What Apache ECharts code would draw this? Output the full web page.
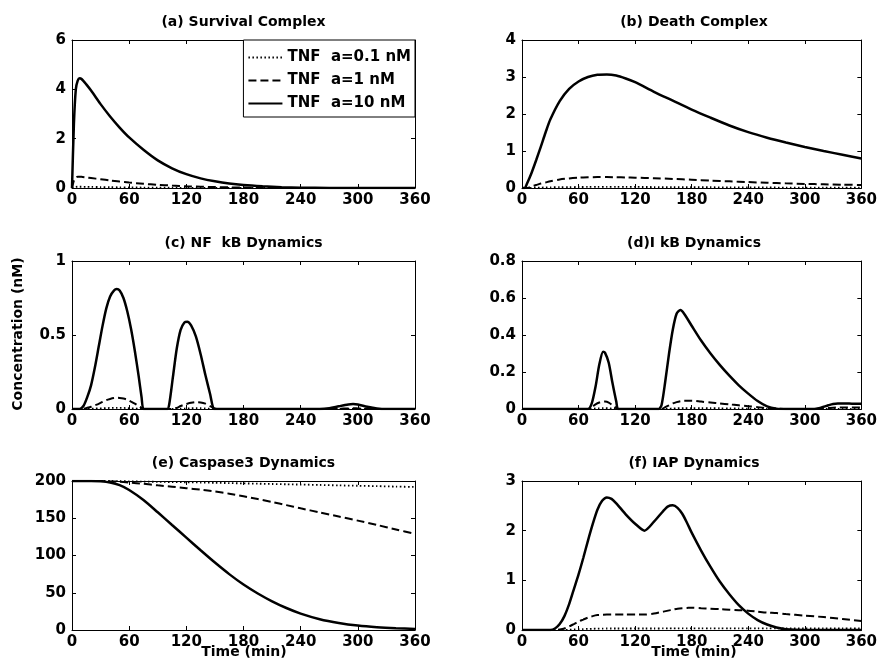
<!DOCTYPE html>
<html lang="en">
<head>
    <meta charset="UTF-8">
    <title>TNF dynamics</title>
    <script src="https://cdn.jsdelivr.net/npm/echarts@6/dist/echarts.min.js"></script>
    <style>
        html, body { margin: 0; padding: 0; background: #fff; }
        #main { width: 880px; height: 670px; }
    </style>
</head>
<body>
<div id="main"></div>
<script type="text/javascript">
    // legend names
    var names = ['TNF  a=0.1 nM', 'TNF  a=1 nM', 'TNF  a=10 nM'];
    var xTicks = [0, 60, 120, 180, 240, 300, 360];

    // (a) survival complex
    var tA = [0, 2, 4, 6, 8, 10, 15, 20, 30, 40, 50, 60, 75, 90, 105, 120, 135, 150, 165, 180, 200, 220, 240, 270, 300, 330, 360];
    var aLow = [0, 0.03, 0.045, 0.05, 0.05, 0.05, 0.047, 0.044, 0.038, 0.033, 0.028, 0.024, 0.018, 0.014, 0.01, 0.007, 0.005, 0.004, 0.003, 0.002, 0.001, 0, 0, 0, 0, 0, 0];
    var aMid = [0, 0.3, 0.42, 0.46, 0.46, 0.455, 0.43, 0.405, 0.355, 0.305, 0.26, 0.22, 0.17, 0.13, 0.098, 0.072, 0.052, 0.037, 0.026, 0.018, 0.01, 0.005, 0.002, 0, 0, 0, 0];
    var aHigh = [0, 2.6, 4.0, 4.35, 4.45, 4.42, 4.2, 3.95, 3.4, 2.9, 2.45, 2.05, 1.55, 1.12, 0.8, 0.56, 0.39, 0.27, 0.18, 0.12, 0.07, 0.035, 0.015, 0.004, 0, 0, 0];

    // (b) death complex
    var tB = [0, 3, 5, 10, 15, 20, 25, 30, 40, 50, 60, 70, 80, 90, 100, 110, 120, 140, 160, 180, 200, 220, 240, 260, 280, 300, 320, 340, 360];
    var bLow = [0, 0, 0, 0.005, 0.01, 0.012, 0.015, 0.018, 0.022, 0.025, 0.027, 0.028, 0.029, 0.029, 0.029, 0.028, 0.028, 0.026, 0.024, 0.022, 0.02, 0.018, 0.016, 0.014, 0.012, 0.011, 0.01, 0.009, 0.008];
    var bMid = [0, 0, 0, 0.04, 0.08, 0.12, 0.15, 0.18, 0.23, 0.26, 0.28, 0.29, 0.295, 0.295, 0.29, 0.285, 0.28, 0.265, 0.245, 0.225, 0.2, 0.18, 0.16, 0.14, 0.125, 0.11, 0.1, 0.09, 0.08];
    var bHigh = [0, 0, 0.1, 0.4, 0.75, 1.12, 1.5, 1.85, 2.35, 2.68, 2.88, 3.0, 3.06, 3.07, 3.04, 2.96, 2.86, 2.6, 2.36, 2.12, 1.9, 1.69, 1.51, 1.36, 1.23, 1.11, 1.0, 0.9, 0.8];

    // (c) NF kB
    var tC = [0, 8, 12, 16, 20, 24, 28, 32, 36, 40, 44, 47, 50, 54, 58, 62, 66, 70, 73, 75, 80, 90, 100, 102, 106, 110, 114, 118, 121, 125, 130, 135, 140, 145, 149, 152, 160, 180, 200, 220, 240, 260, 270, 280, 290, 295, 300, 310, 320, 330, 360];
    var cLow = [0, 0, 0, 0.001, 0.002, 0.003, 0.004, 0.005, 0.006, 0.007, 0.007, 0.007, 0.007, 0.007, 0.006, 0.005, 0.004, 0.002, 0.001, 0, 0, 0, 0, 0, 0, 0.001, 0.002, 0.003, 0.004, 0.005, 0.005, 0.005, 0.004, 0.002, 0.001, 0, 0, 0, 0, 0, 0, 0, 0, 0, 0, 0, 0, 0, 0, 0, 0];
    var cMid = [0, 0, 0.002, 0.008, 0.015, 0.025, 0.035, 0.048, 0.06, 0.068, 0.074, 0.076, 0.075, 0.071, 0.063, 0.05, 0.036, 0.02, 0.008, 0, 0, 0, 0, 0, 0, 0.008, 0.02, 0.03, 0.036, 0.042, 0.046, 0.044, 0.036, 0.02, 0.005, 0, 0, 0, 0, 0, 0, 0, 0, 0.002, 0.004, 0.005, 0.004, 0.002, 0, 0, 0];
    var cHigh = [0, 0, 0.02, 0.08, 0.16, 0.28, 0.42, 0.56, 0.68, 0.76, 0.8, 0.81, 0.8, 0.75, 0.66, 0.54, 0.39, 0.22, 0.08, 0, 0, 0, 0, 0.03, 0.22, 0.41, 0.535, 0.585, 0.59, 0.565, 0.49, 0.37, 0.23, 0.1, 0, 0, 0, 0, 0, 0, 0, 0, 0.005, 0.018, 0.03, 0.033, 0.03, 0.015, 0.004, 0, 0];

    // (d) I kB
    var tD = [0, 60, 70, 74, 78, 82, 86, 88, 92, 96, 100, 102, 110, 120, 140, 145, 148, 152, 156, 160, 164, 168, 172, 180, 190, 200, 210, 220, 230, 240, 250, 260, 270, 280, 300, 310, 315, 320, 325, 330, 335, 340, 350, 360];
    var dLow = [0, 0, 0, 0.001, 0.003, 0.004, 0.005, 0.005, 0.004, 0.002, 0.001, 0, 0, 0, 0, 0, 0, 0.001, 0.002, 0.003, 0.004, 0.005, 0.005, 0.005, 0.005, 0.004, 0.004, 0.003, 0.003, 0.002, 0.001, 0.001, 0, 0, 0, 0, 0, 0, 0, 0.001, 0.001, 0.001, 0.001, 0.001];
    var dMid = [0, 0, 0, 0.01, 0.025, 0.035, 0.04, 0.04, 0.035, 0.02, 0.005, 0, 0, 0, 0, 0, 0, 0.01, 0.02, 0.03, 0.037, 0.042, 0.045, 0.045, 0.04, 0.035, 0.03, 0.025, 0.02, 0.015, 0.01, 0.005, 0.002, 0, 0, 0, 0.001, 0.003, 0.005, 0.007, 0.008, 0.008, 0.008, 0.008];
    var dHigh = [0, 0, 0, 0.03, 0.12, 0.24, 0.31, 0.305, 0.25, 0.14, 0.04, 0, 0, 0, 0, 0, 0.02, 0.15, 0.3, 0.43, 0.515, 0.535, 0.515, 0.45, 0.37, 0.3, 0.237, 0.18, 0.128, 0.083, 0.043, 0.014, 0.002, 0, 0, 0, 0.004, 0.012, 0.02, 0.027, 0.03, 0.03, 0.029, 0.028];

    // (e) caspase3
    var tE = [0, 20, 30, 40, 50, 60, 75, 90, 105, 120, 135, 150, 165, 180, 195, 210, 225, 240, 260, 280, 300, 320, 340, 360];
    var eLow = [200, 200, 200, 200, 199.8, 199.6, 199.2, 198.9, 198.6, 198.3, 198, 197.6, 197.2, 196.8, 196.4, 196, 195.6, 195.2, 194.7, 194.1, 193.6, 193.1, 192.5, 192];
    var eMid = [200, 200, 200, 199.5, 199, 198, 196.2, 194.2, 192.3, 190.4, 188.3, 186, 183, 179.5, 175.7, 171.8, 167.6, 163.3, 157.8, 152.3, 146.8, 141, 135, 129];
    var eHigh = [200, 200, 199.5, 198, 194.5, 188, 174.5, 158, 141, 124, 107, 90.5, 75, 61, 49, 38.5, 29.5, 22, 14.5, 9.5, 6, 3.8, 2.4, 1.5];

    // (f) IAP
    var tF = [0, 30, 35, 40, 45, 50, 55, 60, 65, 70, 75, 80, 85, 90, 95, 100, 110, 120, 130, 140, 150, 155, 160, 165, 170, 175, 180, 190, 200, 210, 220, 230, 240, 250, 260, 270, 280, 300, 320, 340, 360];
    var fLow = [0, 0, 0, 0, 0, 0.005, 0.01, 0.015, 0.019, 0.022, 0.025, 0.027, 0.029, 0.03, 0.03, 0.03, 0.03, 0.03, 0.03, 0.03, 0.031, 0.031, 0.031, 0.031, 0.031, 0.031, 0.031, 0.031, 0.031, 0.031, 0.031, 0.031, 0.031, 0.031, 0.031, 0.031, 0.031, 0.031, 0.031, 0.031, 0.031];
    var fMid = [0, 0, 0, 0.01, 0.03, 0.07, 0.12, 0.17, 0.21, 0.25, 0.28, 0.3, 0.305, 0.31, 0.31, 0.31, 0.31, 0.31, 0.31, 0.33, 0.37, 0.39, 0.41, 0.43, 0.44, 0.445, 0.45, 0.44, 0.43, 0.42, 0.41, 0.4, 0.39, 0.37, 0.35, 0.34, 0.32, 0.29, 0.26, 0.22, 0.18];
    var fHigh = [0, 0, 0.03, 0.12, 0.28, 0.52, 0.82, 1.12, 1.45, 1.8, 2.13, 2.42, 2.6, 2.67, 2.64, 2.55, 2.33, 2.14, 2.0, 2.18, 2.4, 2.49, 2.51, 2.46, 2.34, 2.16, 1.96, 1.6, 1.27, 0.97, 0.72, 0.5, 0.33, 0.2, 0.11, 0.05, 0.015, 0, 0, 0, 0];

    var panels = [
        {title: '(a) Survival Complex', t: tA, low: aLow, mid: aMid, high: aHigh, max: 6, step: 2},
        {title: '(b) Death Complex', t: tB, low: bLow, mid: bMid, high: bHigh, max: 4, step: 1},
        {title: '(c) NF  kB Dynamics', t: tC, low: cLow, mid: cMid, high: cHigh, max: 1, step: 0.5},
        {title: '(d)I kB Dynamics', t: tD, low: dLow, mid: dMid, high: dHigh, max: 0.8, step: 0.2},
        {title: '(e) Caspase3 Dynamics', t: tE, low: eLow, mid: eMid, high: eHigh, max: 200, step: 50},
        {title: '(f) IAP Dynamics', t: tF, low: fLow, mid: fMid, high: fHigh, max: 3, step: 1}
    ];

    var lefts = [72, 522];
    var widths = [343, 344];
    var tops = [40, 261, 481];
    var heights = [148, 148, 149];

    var font = 'DejaVu Sans';
    var labelStyle = {fontFamily: font, fontWeight: 'bold', fontSize: 15, color: '#000'};
    var lineAxis = {show: true, onZero: false, lineStyle: {color: '#000', width: 1}};
    var tickIn = {show: true, inside: true, length: 4, lineStyle: {color: '#000'}};

    var grids = [], xAxes = [], yAxes = [], series = [], graphics = [];
    var styles = [
        {type: [1.5, 2.5], width: 1.8},
        {type: [8, 4], width: 2},
        {type: 'solid', width: 2.5}
    ];

    function zip(t, v) {
        return t.map(function (x, i) { return [x, v[i]]; });
    }

    panels.forEach(function (p, i) {
        var col = i % 2, row = Math.floor(i / 2);
        grids.push({left: lefts[col], top: tops[row], width: widths[col], height: heights[row], containLabel: false});

        xAxes.push({
            gridIndex: i, type: 'value', min: 0, max: 360, interval: 60, position: 'bottom',
            axisLine: lineAxis, axisTick: tickIn, splitLine: {show: false},
            axisLabel: Object.assign({margin: 5}, labelStyle)
        });
        xAxes.push({
            gridIndex: i, type: 'value', min: 0, max: 360, interval: 60, position: 'top',
            axisLine: lineAxis, axisTick: tickIn, splitLine: {show: false}, axisLabel: {show: false}
        });
        yAxes.push({
            gridIndex: i, type: 'value', min: 0, max: p.max, interval: p.step, position: 'left',
            axisLine: lineAxis, axisTick: tickIn, splitLine: {show: false},
            axisLabel: Object.assign({margin: 6}, labelStyle)
        });
        yAxes.push({
            gridIndex: i, type: 'value', min: 0, max: p.max, interval: p.step, position: 'right',
            axisLine: lineAxis, axisTick: tickIn, splitLine: {show: false}, axisLabel: {show: false}
        });

        [p.low, p.mid, p.high].forEach(function (vals, k) {
            series.push({
                name: names[k],
                type: 'line',
                xAxisIndex: 2 * i,
                yAxisIndex: 2 * i,
                data: zip(p.t, vals),
                symbol: 'none',
                showSymbol: false,
                smooth: 0.25,
                lineStyle: {color: '#000', width: styles[k].width, type: styles[k].type},
                itemStyle: {color: '#000'},
                z: 2 + k
            });
        });

        graphics.push({
            type: 'text',
            x: lefts[col] + widths[col] / 2,
            y: tops[row] - 18,
            style: {text: p.title, textAlign: 'center', textVerticalAlign: 'middle',
                font: 'bold 14px "DejaVu Sans"', fill: '#000'}
        });
    });

    // axis labels
    graphics.push({
        type: 'text', x: 244, y: 652,
        style: {text: 'Time (min)', textAlign: 'center', textVerticalAlign: 'middle', font: 'bold 14px "DejaVu Sans"', fill: '#000'}
    });
    graphics.push({
        type: 'text', x: 694, y: 652,
        style: {text: 'Time (min)', textAlign: 'center', textVerticalAlign: 'middle', font: 'bold 14px "DejaVu Sans"', fill: '#000'}
    });
    graphics.push({
        type: 'text', x: 18, y: 334, rotation: Math.PI / 2,
        style: {text: 'Concentration (nM)', textAlign: 'center', textVerticalAlign: 'middle', font: 'bold 14px "DejaVu Sans"', fill: '#000'}
    });

    var myChart = echarts.init(document.getElementById('main'), null, {renderer: 'canvas'});
    myChart.setOption({
        backgroundColor: '#fff',
        animation: false,
        grid: grids,
        xAxis: xAxes,
        yAxis: yAxes,
        legend: {
            data: names,
            orient: 'vertical',
            right: 880 - 415,
            top: 40,
            padding: [10, 4, 6, 4],
            itemGap: 8,
            itemWidth: 34,
            itemHeight: 14,
            backgroundColor: '#fff',
            borderColor: '#000',
            borderWidth: 1,
            borderRadius: 0,
            itemStyle: {color: 'transparent', borderWidth: 0, opacity: 0},
            textStyle: {fontFamily: font, fontWeight: 'bold', fontSize: 15, color: '#000'}
        },
        graphic: graphics,
        series: series
    });
</script>
</body>
</html>
